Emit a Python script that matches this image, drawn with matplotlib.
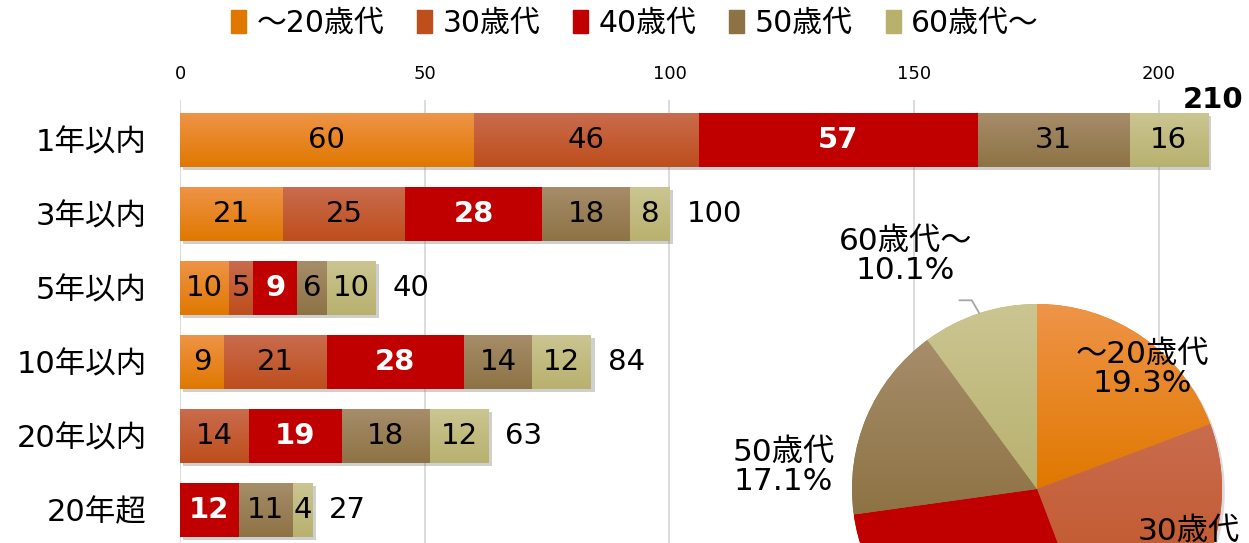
import numpy as np
import matplotlib
matplotlib.use('Agg')
import matplotlib.pyplot as plt
import matplotlib.patheffects as pe
from matplotlib.colors import to_rgb

plt.rcParams['font.family'] = ['DejaVu Sans', 'Noto Sans CJK JP']

# data
periods = ['1年以内', '3年以内', '5年以内', '10年以内', '20年以内', '20年超']
ages = ['～20歳代', '30歳代', '40歳代', '50歳代', '60歳代～']
counts = {
    '～20歳代': [60, 21, 10, 9, 0, 0],
    '30歳代': [46, 25, 5, 21, 14, 0],
    '40歳代': [57, 28, 9, 28, 19, 12],
    '50歳代': [31, 18, 6, 14, 18, 11],
    '60歳代～': [16, 8, 10, 12, 12, 4],
}
pie_share = [19.3, 24.9, 28.6, 17.1, 10.1]
x_ticks = [0, 50, 100, 150, 200]

# gradient colours (top, bottom)
grad = {
    '～20歳代': ('#EF9448', '#E07800'),
    '30歳代': ('#C96C4E', '#BE4E1C'),
    '40歳代': ('#C00000', '#C00000'),
    '50歳代': ('#A78D6A', '#8D7344'),
    '60歳代～': ('#CBC592', '#B8B16E'),
}


def gradient_fill(ax, patch, top, bottom, x0, x1, ytop, ybot):
    c = np.linspace(np.array(to_rgb(top)), np.array(to_rgb(bottom)), 64)
    img = ax.imshow(c.reshape(64, 1, 3), extent=(x0, x1, ybot, ytop),
                    origin='upper', aspect='auto', zorder=patch.get_zorder() + 0.1,
                    interpolation='bilinear')
    img.set_clip_path(patch)


fig = plt.figure(figsize=(12.49, 5.43), dpi=100)
ax = fig.add_axes([180 / 1249, 0, 1069 / 1249, 443 / 543])

y = np.arange(len(periods))
h = 0.73
left = np.zeros(len(periods))
for age in ages:
    vals = np.array(counts[age])
    bars = ax.barh(y, vals, height=h, left=left, color=grad[age][1], zorder=2,
                   edgecolor='none', label=age)
    for b, v, l, yy in zip(bars, vals, left, y):
        if v == 0:
            continue
        b.set_path_effects([pe.SimplePatchShadow(offset=(2.5, -2.5), shadow_rgbFace='#777777', alpha=0.35),
                            pe.Normal()])
        gradient_fill(ax, b, grad[age][0], grad[age][1], l, l + v, yy - h / 2, yy + h / 2)
        if age == '40歳代':
            ax.text(l + v / 2, yy, str(v), ha='center', va='center', fontsize=21,
                    color='white', fontweight='bold', zorder=5)
        else:
            ax.text(l + v / 2, yy, str(v), ha='center', va='center', fontsize=21,
                    color='black', zorder=5)
    left = left + vals

totals = left
for t, yy in zip(totals, y):
    if t > 200:
        ax.text(t + 1, yy - h / 2 + 0.02, f'{int(t)}', ha='center', va='bottom',
                fontsize=21, fontweight='bold', zorder=5)
    else:
        ax.text(t + 3.5, yy, f'{int(t)}', ha='left', va='center', fontsize=21, zorder=5)

ax.set_xlim(0, 218.4)
ax.set_ylim(5.446, -0.54)
ax.xaxis.tick_top()
ax.set_xticks(x_ticks)
ax.set_xticklabels([str(v) for v in x_ticks], fontsize=13)
ax.set_yticks(y)
ax.set_yticklabels(periods, fontsize=22)
ax.tick_params(axis='x', length=0, pad=12)
ax.tick_params(axis='y', length=0, pad=24)
ax.grid(axis='x', color='#D9D9D9', linewidth=1.3, zorder=0)
for s in ax.spines.values():
    s.set_visible(False)

handles, labels = ax.get_legend_handles_labels()
leg = fig.legend(handles, labels, loc='center', bbox_to_anchor=(635 / 1249, 1 - 23 / 543),
                 ncol=5, frameon=False, fontsize=21.5, handlelength=0.5, handleheight=0.8,
                 handletextpad=0.35, columnspacing=1.1)
for hnd, age in zip(leg.legend_handles, ages):
    hnd.set_path_effects([])
    hnd.set_color(grad[age][1])

# pie
cx, cy, r = 1037, 489, 185
pax = fig.add_axes([(cx - r) / 1249, (543 - cy - r) / 543, 2 * r / 1249, 2 * r / 543])
pax.axis('off')
wedges, _ = pax.pie(pie_share, startangle=90, counterclock=False, radius=1,
                    colors=[grad[a][1] for a in ages],
                    wedgeprops=dict(edgecolor='none'))
for w, age in zip(wedges, ages):
    w.set_path_effects([pe.SimplePatchShadow(offset=(2, -2), shadow_rgbFace='#888888', alpha=0.3),
                        pe.Normal()])
    ext = w.get_path().get_extents()
    c = np.linspace(np.array(to_rgb(grad[age][0])), np.array(to_rgb(grad[age][1])), 64)
    img = pax.imshow(c.reshape(64, 1, 3), extent=(ext.x0, ext.x1, ext.y0, ext.y1),
                     origin='upper', aspect='auto', zorder=w.get_zorder() + 0.1,
                     interpolation='bilinear')
    img.set_clip_path(w)
pax.set_xlim(-1, 1)
pax.set_ylim(-1, 1)

# labels for the visible slices (the 40s label falls outside the picture)
pie_label_pos = {'～20歳代': (0.57, 0.65), '30歳代': (0.82, -0.31),
                 '50歳代': (-1.37, 0.12), '60歳代～': (-0.71, 1.26)}
for age, s in zip(ages, pie_share):
    if age not in pie_label_pos:
        continue
    px, py = pie_label_pos[age]
    pax.text(px, py, f'{age}\n{s:.1f}%', ha='center', va='center', fontsize=22.5,
             color='black', linespacing=1.0, zorder=6, clip_on=False)

# leader line for 60s label
ang = np.deg2rad(90 + pie_share[-1] * 3.6 / 2)
pax.annotate('', xy=(np.cos(ang), np.sin(ang)), xytext=(-0.42, 1.02),
             arrowprops=dict(arrowstyle='-', color='#A6A6A6', lw=1.3, shrinkA=0, shrinkB=0,
                             connectionstyle='angle,angleA=0,angleB=120,rad=0'),
             annotation_clip=False, zorder=6)

fig.savefig('out.png', dpi=100)
